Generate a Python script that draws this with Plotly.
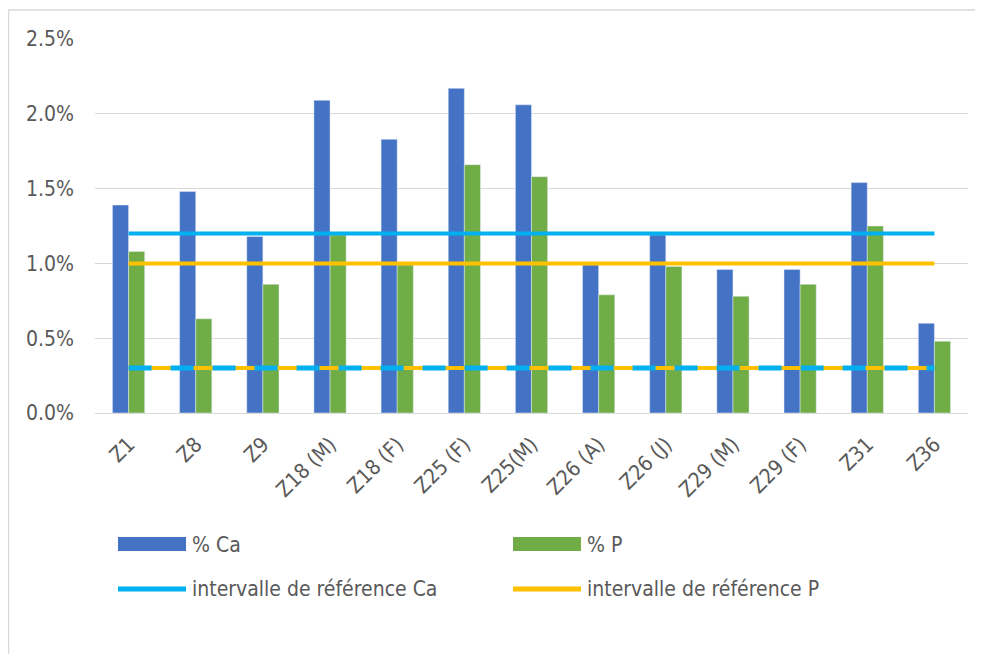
import plotly.graph_objects as go

categories = ["Z1", "Z8", "Z9", "Z18 (M)", "Z18 (F)", "Z25 (F)", "Z25(M)",
              "Z26 (A)", "Z26 (J)", "Z29 (M)", "Z29 (F)", "Z31", "Z36"]
ca_values = [0.0139, 0.0148, 0.0118, 0.0209, 0.0183, 0.0217, 0.0206,
             0.0099, 0.0119, 0.0096, 0.0096, 0.0154, 0.0060]
p_values = [0.0108, 0.0063, 0.0086, 0.0119, 0.0099, 0.0166, 0.0158,
            0.0079, 0.0098, 0.0078, 0.0086, 0.0125, 0.0048]
ca_ref_high = 0.012
ca_ref_low = 0.003
p_ref_high = 0.010
p_ref_low = 0.003

BLUE = "#4472C4"
GREEN = "#70AD47"
CYAN = "#00B0F0"
GOLD = "#FFC000"
TXT = "#595959"
FONT = "DejaVu Sans Condensed, DejaVu Sans"
FS = 21

n = len(categories)
fig = go.Figure()
fig.add_trace(go.Bar(x=categories, y=ca_values, name="% Ca", marker_color=BLUE))
fig.add_trace(go.Bar(x=categories, y=p_values, name="% P", marker_color=GREEN))
fig.add_trace(go.Scatter(x=categories, y=[p_ref_low] * n, mode="lines",
                         line=dict(color=GOLD, width=4), showlegend=False))
fig.add_trace(go.Scatter(x=categories, y=[ca_ref_low] * n, mode="lines",
                         line=dict(color=CYAN, width=5, dash="23px,19px"), showlegend=False))
fig.add_trace(go.Scatter(x=categories, y=[ca_ref_high] * n, mode="lines",
                         name="intervalle de référence Ca",
                         line=dict(color=CYAN, width=4)))
fig.add_trace(go.Scatter(x=categories, y=[p_ref_high] * n, mode="lines",
                         name="intervalle de référence P",
                         line=dict(color=GOLD, width=4)))

OFF = 8  # page body margin
W, H = 983 - 2 * OFF, 662 - 2 * OFF
L, T = 95 - OFF, 39 - OFF
R = W - (968 - OFF)
B = H - (413 - OFF)
pw, ph = W - L - R, H - T - B

def px(x):
    return (x - OFF - L) / pw

def py(y):
    return (H - B - (y - OFF)) / ph

shapes = [
    dict(type="path", xref="paper", yref="paper",
         path=f"M {px(8.5)} {py(654)} L {px(8.5)} {py(10)} L {px(975)} {py(10)}",
         line=dict(color="#D9D9D9", width=1.5)),
    dict(type="rect", xref="paper", yref="paper", x0=px(118), x1=px(186), y0=py(551), y1=py(537),
         fillcolor=BLUE, line=dict(width=0)),
    dict(type="rect", xref="paper", yref="paper", x0=px(513), x1=px(581), y0=py(551), y1=py(537),
         fillcolor=GREEN, line=dict(width=0)),
    dict(type="line", xref="paper", yref="paper", x0=px(118), x1=px(186), y0=py(589), y1=py(589),
         line=dict(color=CYAN, width=5)),
    dict(type="line", xref="paper", yref="paper", x0=px(513), x1=px(581), y0=py(589), y1=py(589),
         line=dict(color=GOLD, width=5)),
]
legend_text = [("% Ca", 192, 545), ("% P", 587, 545),
               ("intervalle de référence Ca", 192, 589), ("intervalle de référence P", 587, 589)]
annotations = [dict(text=t, xref="paper", yref="paper", x=px(x), y=py(y), xanchor="left",
                    yanchor="middle", showarrow=False, xshift=-2,
                    font=dict(family=FONT, size=FS, color=TXT))
               for t, x, y in legend_text]

fig.update_layout(
    width=W, height=H,
    margin=dict(l=L, r=R, t=T, b=B, autoexpand=False),
    paper_bgcolor="white", plot_bgcolor="white",
    barmode="group", bargap=0.52, bargroupgap=0,
    showlegend=False,
    shapes=shapes, annotations=annotations,
    font=dict(family=FONT, size=FS, color=TXT),
)
fig.update_yaxes(range=[0, 0.025], dtick=0.005, tickformat=".1%",
                 showgrid=True, gridcolor="#D9D9D9", gridwidth=1,
                 zeroline=True, zerolinecolor="#D9D9D9", zerolinewidth=1,
                 ticklabelstandoff=20, tickfont=dict(family=FONT, size=FS, color=TXT))
fig.update_xaxes(tickangle=-45, showline=False, ticks="", ticklabelstandoff=14,
                 tickfont=dict(family=FONT, size=FS, color=TXT))

fig.write_html("out.html")
